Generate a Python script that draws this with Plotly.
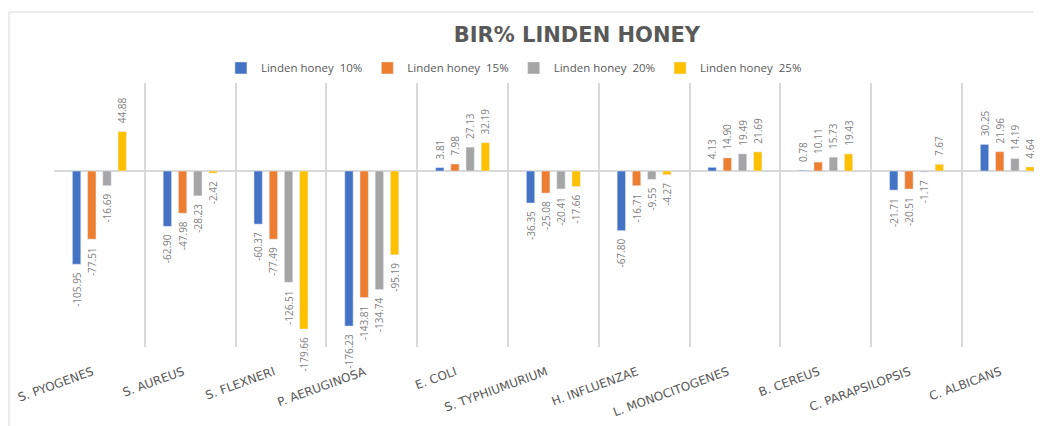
import plotly.graph_objects as go

categories = ["S. PYOGENES", "S. AUREUS", "S. FLEXNERI", "P. AERUGINOSA", "E. COLI",
              "S. TYPHIUMURIUM", "H. INFLUENZAE", "L. MONOCITOGENES", "B. CEREUS",
              "C. PARAPSILOPSIS", "C. ALBICANS"]

honey_10 = [-105.95, -62.90, -60.37, -176.23, 3.81, -36.35, -67.80, 4.13, 0.78, -21.71, 30.25]
honey_15 = [-77.51, -47.98, -77.49, -143.81, 7.98, -25.08, -16.71, 14.90, 10.11, -20.51, 21.96]
honey_20 = [-16.69, -28.23, -126.51, -134.74, 27.13, -20.41, -9.55, 19.49, 15.73, -1.17, 14.19]
honey_25 = [44.88, -2.42, -179.66, -95.19, 32.19, -17.66, -4.27, 21.69, 19.43, 7.67, 4.64]

series_names = ["Linden honey  10%", "Linden honey  15%", "Linden honey  20%", "Linden honey  25%"]
colors = ["#4472C4", "#ED7D31", "#A5A5A5", "#FFC000"]

pad = "\u00a0\u00a0"


def labels(vals):
    # keep a little gap between bar end and rotated label
    return [(pad + f"{v:.2f}") if v >= 0 else (f"{v:.2f}" + pad) for v in vals]


fig = go.Figure()
for name, vals, col in zip(series_names, [honey_10, honey_15, honey_20, honey_25], colors):
    fig.add_trace(go.Bar(
        x=categories, y=vals, name=name, marker_color=col,
        text=labels(vals), textposition="outside", textangle=-90,
        constraintext="none",
        textfont=dict(family="Open Sans", size=10, color="#7F7F7F"),
        cliponaxis=False,
    ))

# page body has an 8px margin, so everything is shifted up/left by 8px here
fig.update_layout(
    width=1042, height=426,
    margin=dict(l=46, r=0, t=75, b=87),
    paper_bgcolor="white", plot_bgcolor="white",
    barmode="group", bargap=0.33, bargroupgap=0.45,
    title=dict(text="<b>BIR% LINDEN HONEY</b>", x=0.546, xanchor="center",
               y=0.9366, yanchor="middle",
               font=dict(family="DejaVu Sans", size=21, color="#595959")),
    legend=dict(orientation="h", x=0.4618, xanchor="center", y=1.057, yanchor="middle",
                font=dict(family="Open Sans", size=11.5, color="#595959"),
                itemwidth=30, traceorder="normal"),
    font=dict(family="Open Sans"),
)

fig.update_xaxes(
    type="category", range=[-0.5, 10.47], tickson="boundaries",
    showgrid=True, gridcolor="#D9D9D9", gridwidth=1.5,
    tickangle=-20, ticks="", ticklabelstandoff=15, ticklabelshift=-7,
    tickfont=dict(family="DejaVu Sans", size=12, color="#595959"),
    showline=False, zeroline=False,
)
fig.update_yaxes(
    range=[-200, 100], showgrid=False, showticklabels=False,
    zeroline=True, zerolinecolor="#D9D9D9", zerolinewidth=1.5,
)

# outer chart border (top and left edge visible in the crop)
fig.add_shape(type="rect", xref="paper", yref="paper",
              x0=-0.0452, x1=1.05, y0=-0.4, y1=1.269,
              line=dict(color="#D9D9D9", width=1), layer="below")

fig.write_html("out.html")
